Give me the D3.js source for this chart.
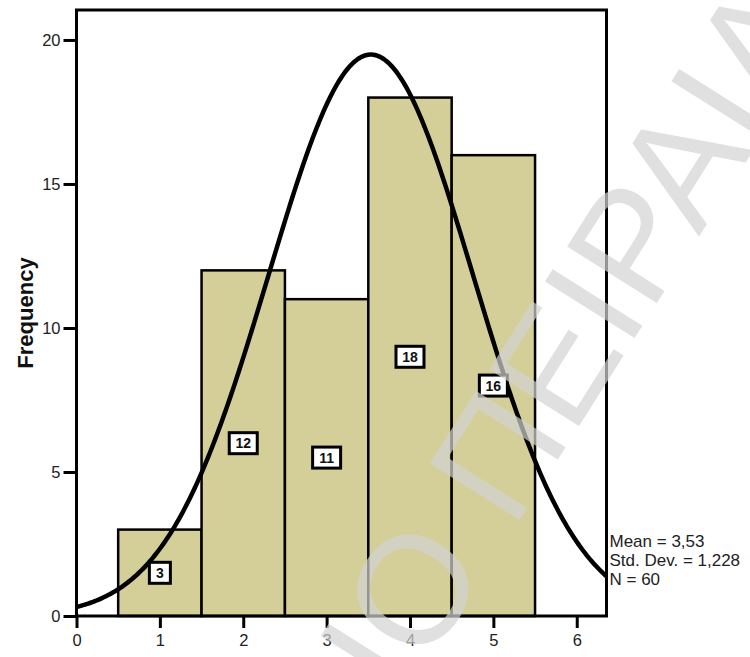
<!DOCTYPE html>
<html>
<head>
<meta charset="utf-8">
<script src="https://cdn.jsdelivr.net/npm/d3@7/dist/d3.min.js"></script>
<style>
  body { margin: 0; background: #fff; }
  text { font-family: "Liberation Sans", Arial, sans-serif; }
</style>
</head>
<body>
<svg width="750" height="657"></svg>
<script>
// histogram bins (width 1) and their frequencies
var binCenters = [1, 2, 3, 4, 5];
var counts = [3, 12, 11, 18, 16];

var yTicks = [0, 5, 10, 15, 20];
var xTicks = [0, 1, 2, 3, 4, 5, 6];

// summary stats, also used for the normal curve
var mean = 3.53, stdDev = 1.228, total = 60;
var statLines = ["Mean = 3,53", "Std. Dev. = 1,228", "N = 60"];

var watermark = "ΠΑΝΕΠΙΣΤΗΜΙΟ ΠΕΙΡΑΙΑ";


var svg = d3.select("svg");

var plotLeft = 76.5, plotRight = 606.5, plotTop = 10, plotBottom = 616;

var x = d3.scaleLinear().domain([0, 6.357]).range([plotLeft, plotRight]);
var y = d3.scaleLinear().domain([0, 21.04]).range([plotBottom, plotTop]);

svg.append("defs").append("clipPath").attr("id", "plot")
  .append("rect")
    .attr("x", plotLeft).attr("y", plotTop)
    .attr("width", plotRight - plotLeft).attr("height", plotBottom - plotTop);

// bars
svg.append("g")
  .selectAll("rect")
  .data(binCenters)
  .enter().append("rect")
    .attr("x", function(d) { return x(d - 0.5); })
    .attr("y", function(d, i) { return y(counts[i]); })
    .attr("width", function(d) { return x(d + 0.5) - x(d - 0.5); })
    .attr("height", function(d, i) { return y(0) - y(counts[i]); })
    .attr("fill", "#d4cf98")
    .attr("stroke", "#000")
    .attr("stroke-width", 2.5);

// normal curve scaled to counts (bin width 1)
function normal(v) {
  var z = (v - mean) / stdDev;
  return total / (stdDev * Math.sqrt(2 * Math.PI)) * Math.exp(-0.5 * z * z);
}
var curveX = d3.range(0, 6.4, 0.02);
svg.append("path")
  .datum(curveX)
  .attr("clip-path", "url(#plot)")
  .attr("fill", "none")
  .attr("stroke", "#000")
  .attr("stroke-width", 4.5)
  .attr("d", d3.line()
    .x(function(d) { return x(d); })
    .y(function(d) { return y(normal(d)); }));

// count labels in white boxes at half bar height
var labels = svg.append("g")
  .selectAll("g")
  .data(binCenters)
  .enter().append("g")
    .attr("transform", function(d, i) {
      return "translate(" + x(d) + "," + y(counts[i] / 2) + ")";
    });

labels.append("rect")
    .attr("x", function(d, i) { return counts[i] > 9 ? -14 : -10.5; })
    .attr("y", -10.5)
    .attr("width", function(d, i) { return counts[i] > 9 ? 28 : 21; })
    .attr("height", 21)
    .attr("fill", "#fff")
    .attr("stroke", "#000")
    .attr("stroke-width", 3);

labels.append("text")
    .attr("text-anchor", "middle")
    .attr("dy", "0.36em")
    .attr("font-size", 14)
    .attr("font-weight", "bold")
    .attr("fill", "#111")
    .text(function(d, i) { return counts[i]; });

// frame
svg.append("rect")
  .attr("x", plotLeft).attr("y", plotTop)
  .attr("width", plotRight - plotLeft).attr("height", plotBottom - plotTop)
  .attr("fill", "none")
  .attr("stroke", "#000")
  .attr("stroke-width", 3);

// axes
var yAxis = svg.append("g")
  .attr("transform", "translate(" + plotLeft + ",0)")
  .call(d3.axisLeft(y).tickValues(yTicks).tickFormat(d3.format("d"))
    .tickSize(13).tickPadding(3));

var xAxis = svg.append("g")
  .attr("transform", "translate(0," + plotBottom + ")")
  .call(d3.axisBottom(x).tickValues(xTicks).tickFormat(d3.format("d"))
    .tickSize(12).tickPadding(6));

[yAxis, xAxis].forEach(function(a) {
  a.select(".domain").remove();
  a.selectAll(".tick line").attr("stroke", "#000").attr("stroke-width", 3);
  a.selectAll(".tick text")
    .attr("fill", "#222")
    .attr("font-size", 16.5)
    .attr("font-family", "Liberation Sans, Arial, sans-serif");
});

svg.append("text")
  .attr("transform", "translate(33,313) rotate(-90)")
  .attr("text-anchor", "middle")
  .attr("font-size", 22)
  .attr("font-weight", "bold")
  .attr("fill", "#111")
  .text("Frequency");

// stats box
svg.append("g")
  .selectAll("text")
  .data(statLines)
  .enter().append("text")
    .attr("x", plotRight + 3)
    .attr("y", function(d, i) { return 547 + i * 19; })
    .attr("font-size", 17)
    .attr("fill", "#222")
    .text(function(d) { return d; });

// watermark, placed so that the "Ο" sits where it does in the scan
var wmSize = 154;
var wm = svg.append("g").attr("opacity", 0.7);
var wmText = wm.append("text")
  .attr("font-size", wmSize)
  .attr("fill", "#d3d3d3")
  .text(watermark);
var oIdx = watermark.indexOf("Ο");
var oMid = (wmText.node().getStartPositionOfChar(oIdx).x +
            wmText.node().getEndPositionOfChar(oIdx).x) / 2;
wm.attr("transform", "translate(411,588) rotate(-57.7) translate(" +
  (-oMid) + "," + (0.36 * wmSize) + ")");
</script>
</body>
</html>
